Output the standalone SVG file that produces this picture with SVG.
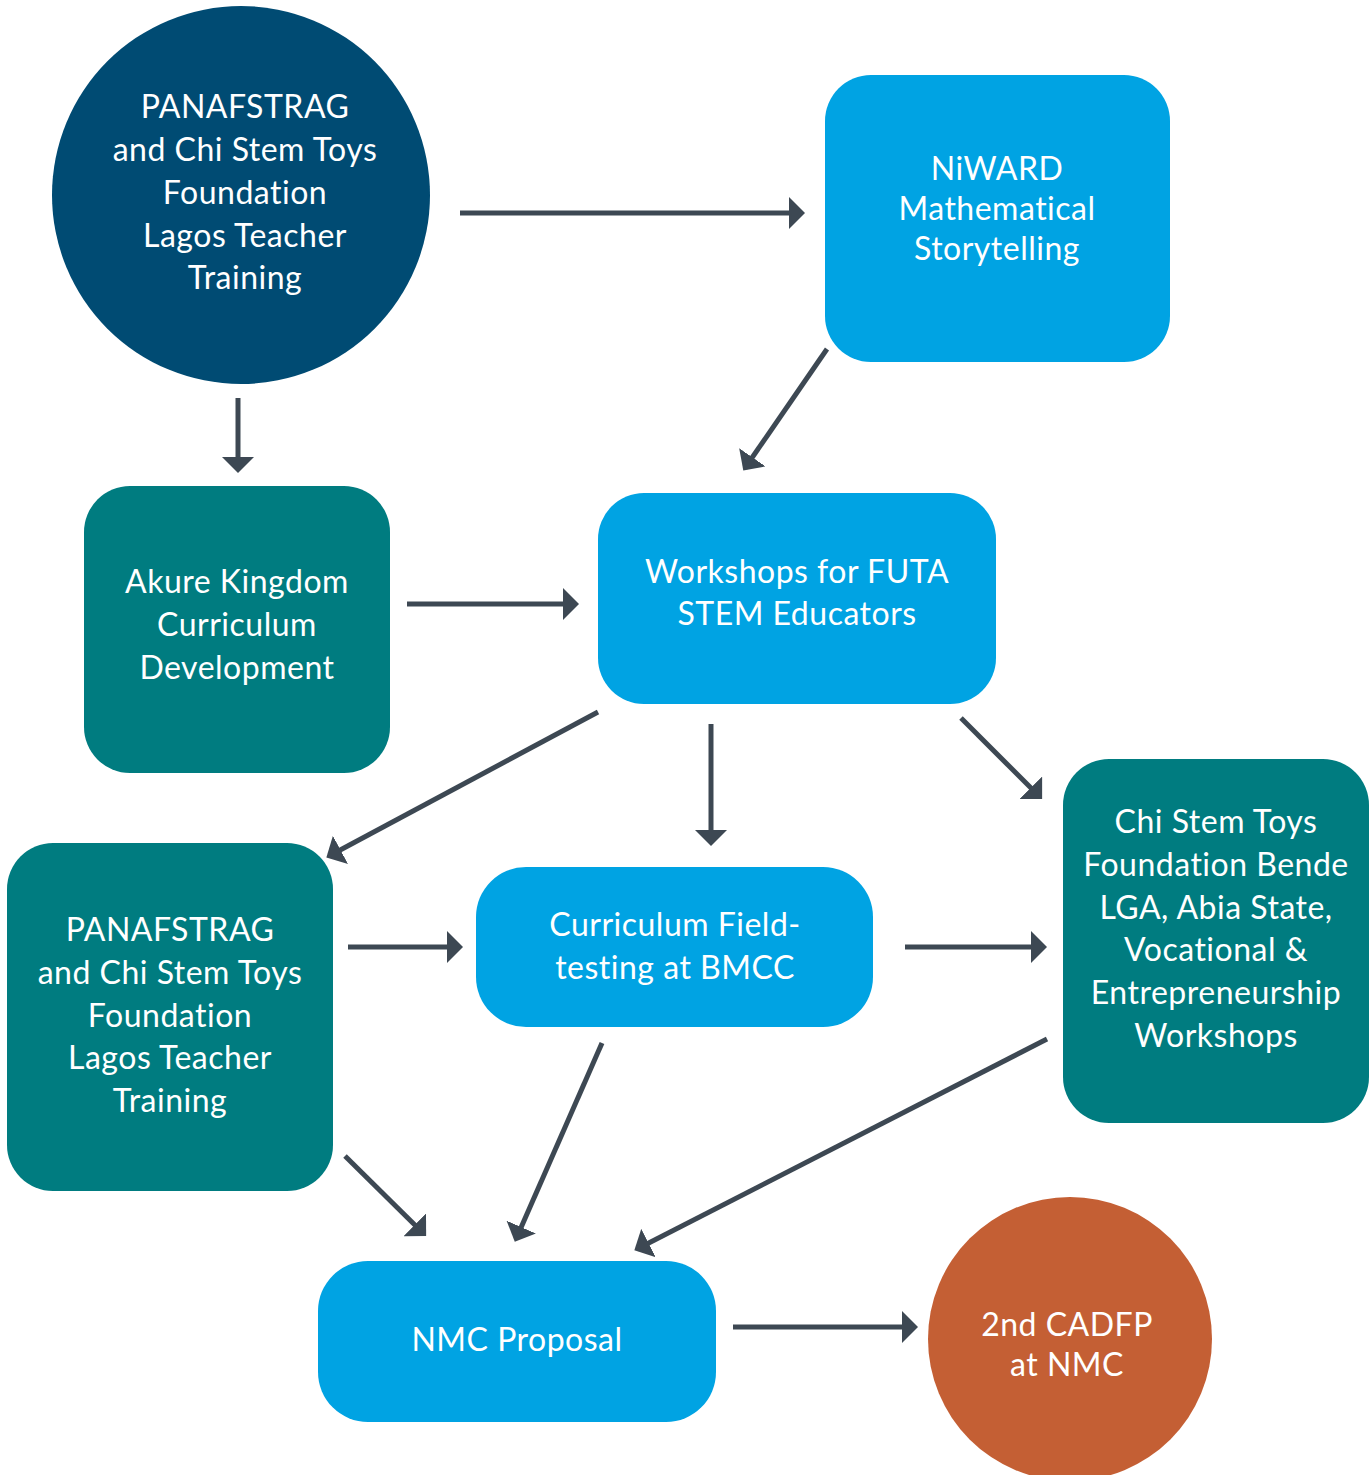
<svg xmlns="http://www.w3.org/2000/svg" width="1372" height="1475" viewBox="0 0 1372 1475">
<style>
.t{font-family:Lato,"Open Sans","Liberation Sans",sans-serif;font-size:32px;letter-spacing:0.5px;fill:#ffffff;text-anchor:middle}
.blue{fill:#00A3E3}
.teal{fill:#007C80}
.c line{stroke:#3D4853;stroke-width:5;marker-end:url(#ah)}
</style>
<defs>
<marker id="ah" markerUnits="userSpaceOnUse" markerWidth="17" markerHeight="32" refX="13" refY="16" orient="auto">
<path d="M0,0 L16,16 L0,32 Z" fill="#3D4853"/>
</marker>
</defs>
<rect width="1372" height="1475" fill="#ffffff"/>
<g id="n1"><circle cx="241" cy="195" r="189" fill="#004B73"/>
<text class="t"><tspan x="245" y="118">PANAFSTRAG</tspan><tspan x="245" y="161">and Chi Stem Toys</tspan><tspan x="245" y="204">Foundation</tspan><tspan x="245" y="247">Lagos Teacher</tspan><tspan x="245" y="289">Training</tspan></text></g>
<g id="n2"><rect class="blue" x="825" y="75" width="345" height="287" rx="46"/>
<text class="t"><tspan x="997" y="180">NiWARD</tspan><tspan x="997" y="220">Mathematical</tspan><tspan x="997" y="260">Storytelling</tspan></text></g>
<g id="n3"><rect class="teal" x="84" y="486" width="306" height="287" rx="46"/>
<text class="t"><tspan x="237" y="593">Akure Kingdom</tspan><tspan x="237" y="636">Curriculum</tspan><tspan x="237" y="679">Development</tspan></text></g>
<g id="n4"><rect class="blue" x="598" y="493" width="398" height="211" rx="46"/>
<text class="t"><tspan x="797" y="583">Workshops for FUTA</tspan><tspan x="797" y="625">STEM Educators</tspan></text></g>
<g id="n5"><rect class="teal" x="7" y="843" width="326" height="348" rx="46"/>
<text class="t"><tspan x="170" y="941">PANAFSTRAG</tspan><tspan x="170" y="984">and Chi Stem Toys</tspan><tspan x="170" y="1027">Foundation</tspan><tspan x="170" y="1069">Lagos Teacher</tspan><tspan x="170" y="1112">Training</tspan></text></g>
<g id="n6"><rect class="blue" x="476" y="867" width="397" height="160" rx="50"/>
<text class="t"><tspan x="675" y="936">Curriculum Field-</tspan><tspan x="675" y="979">testing at BMCC</tspan></text></g>
<g id="n7"><rect class="teal" x="1063" y="759" width="306" height="364" rx="46"/>
<text class="t"><tspan x="1216" y="833">Chi Stem Toys</tspan><tspan x="1216" y="876">Foundation Bende</tspan><tspan x="1216" y="919">LGA, Abia State,</tspan><tspan x="1216" y="961">Vocational &amp;</tspan><tspan x="1216" y="1004">Entrepreneurship</tspan><tspan x="1216" y="1047">Workshops</tspan></text></g>
<g id="n8"><rect class="blue" x="318" y="1261" width="398" height="161" rx="50"/>
<text class="t"><tspan x="517" y="1351">NMC Proposal</tspan></text></g>
<g id="n9"><circle cx="1070" cy="1339" r="142" fill="#C45F34"/>
<text class="t"><tspan x="1067" y="1336">2nd CADFP</tspan><tspan x="1067" y="1376">at NMC</tspan></text></g>
<g id="connectors" class="c">
<line x1="460" y1="213" x2="802" y2="213"/>
<line x1="827" y1="349" x2="745" y2="468"/>
<line x1="238" y1="398" x2="238" y2="470"/>
<line x1="407" y1="604" x2="576" y2="604"/>
<line x1="598" y1="712" x2="329" y2="856"/>
<line x1="711" y1="724" x2="711" y2="843"/>
<line x1="961" y1="718" x2="1040" y2="797"/>
<line x1="348" y1="947" x2="460" y2="947"/>
<line x1="905" y1="947" x2="1044" y2="947"/>
<line x1="602" y1="1043" x2="516" y2="1239"/>
<line x1="1047" y1="1039" x2="637" y2="1249"/>
<line x1="345" y1="1156" x2="424" y2="1234"/>
<line x1="733" y1="1327" x2="915" y2="1327"/>
</g>
</svg>
